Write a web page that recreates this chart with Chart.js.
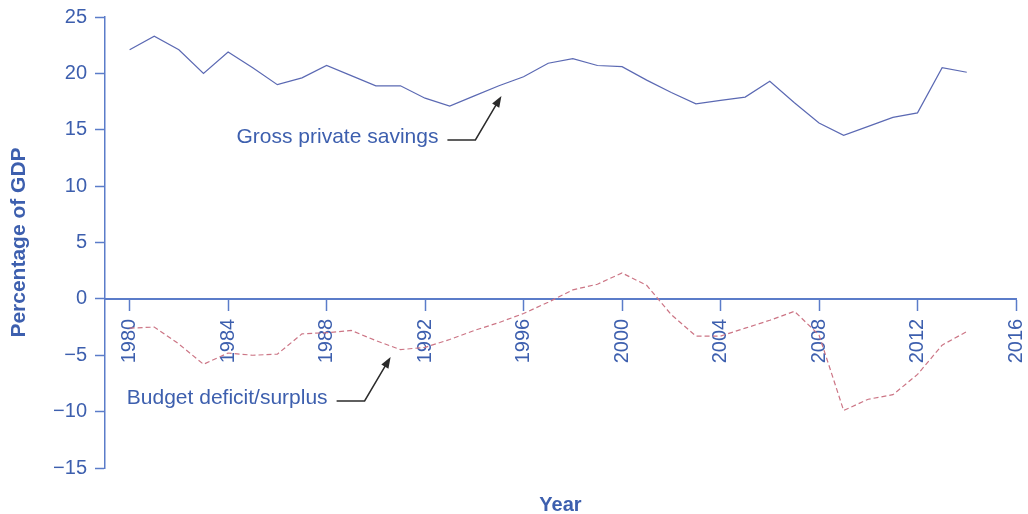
<!DOCTYPE html>
<html>
<head>
<meta charset="utf-8">
<script src="https://cdn.jsdelivr.net/npm/chart.js@4.4.0/dist/chart.umd.min.js"></script>
<style>
  html, body { margin: 0; padding: 0; background: #fff; }
  #box { width: 1028px; height: 514px; }
</style>
</head>
<body>
<div id="box"><canvas id="savingsChart"></canvas></div>
<script>
const years = [1980, 1981, 1982, 1983, 1984, 1985, 1986, 1987, 1988, 1989,
  1990, 1991, 1992, 1993, 1994, 1995, 1996, 1997, 1998, 1999,
  2000, 2001, 2002, 2003, 2004, 2005, 2006, 2007, 2008, 2009,
  2010, 2011, 2012, 2013, 2014];
const grossSavings = [22.1, 23.3, 22.1, 20.0, 21.9, 20.5, 19.0, 19.6, 20.7, 19.8,
  18.9, 18.9, 17.8, 17.1, 18.0, 18.9, 19.7, 20.9, 21.3, 20.7,
  20.6, 19.4, 18.3, 17.3, 17.6, 17.9, 19.3, 17.4, 15.6, 14.5,
  15.3, 16.1, 16.5, 20.5, 20.1];
const budgetBalance = [-2.6, -2.5, -4.0, -5.8, -4.8, -5.0, -4.9, -3.1, -3.0, -2.8,
  -3.7, -4.5, -4.3, -3.6, -2.8, -2.1, -1.3, -0.3, 0.8, 1.3,
  2.3, 1.2, -1.4, -3.3, -3.3, -2.6, -1.9, -1.1, -3.2, -9.9,
  -8.9, -8.5, -6.7, -4.1, -2.9];
const xTicks = [1980, 1984, 1988, 1992, 1996, 2000, 2004, 2008, 2012, 2016];

// callouts: text + where the arrow points (data coords)
const callouts = [
  { text: 'Gross private savings', tipX: 1995.1, tipY: 18.0 },
  { text: 'Budget deficit/surplus', tipX: 1990.6, tipY: -5.15 }
];

const blueText = '#3d5fae';
const axisBlue = '#5b7cc9';
const fontFam = '"Liberation Sans", Arial, sans-serif';

const annotationsPlugin = {
  id: 'callouts',
  afterDatasetsDraw(chart) {
    const { ctx, scales: { x, y }, chartArea } = chart;
    ctx.save();
    ctx.font = '21px ' + fontFam;
    ctx.textBaseline = 'middle';
    ctx.textAlign = 'right';
    callouts.forEach(c => {
      const tx = x.getPixelForValue(c.tipX);
      const ty = y.getPixelForValue(c.tipY);
      // elbow: horizontal stub then diagonal up to tip
      const kneeX = tx - 26;
      const kneeY = ty + 44;
      const stubX = kneeX - 28;
      ctx.fillStyle = blueText;
      ctx.fillText(c.text, stubX - 9, kneeY - 3);
      ctx.strokeStyle = '#2b2b2b';
      ctx.lineWidth = 1.5;
      ctx.beginPath();
      ctx.moveTo(stubX, kneeY);
      ctx.lineTo(kneeX, kneeY);
      const ang = Math.atan2(ty - kneeY, tx - kneeX);
      const headLen = 12;
      ctx.lineTo(tx - Math.cos(ang) * headLen * 0.8, ty - Math.sin(ang) * headLen * 0.8);
      ctx.stroke();
      ctx.fillStyle = '#2b2b2b';
      ctx.beginPath();
      ctx.moveTo(tx, ty);
      ctx.lineTo(tx - headLen * Math.cos(ang - 0.35), ty - headLen * Math.sin(ang - 0.35));
      ctx.lineTo(tx - headLen * Math.cos(ang + 0.35), ty - headLen * Math.sin(ang + 0.35));
      ctx.closePath();
      ctx.fill();
    });
    // x axis title at the bottom
    ctx.font = 'bold 20px ' + fontFam;
    ctx.fillStyle = blueText;
    ctx.textAlign = 'center';
    ctx.fillText('Year', (chartArea.left + chartArea.right) / 2, 505);
    ctx.restore();
  }
};

const ctx = document.getElementById('savingsChart').getContext('2d');
new Chart(ctx, {
  type: 'line',
  data: {
    datasets: [
      {
        label: 'Gross private savings',
        data: years.map((yr, i) => ({ x: yr, y: grossSavings[i] })),
        borderColor: '#5b69b3',
        borderWidth: 1.2,
        pointRadius: 0,
        tension: 0
      },
      {
        label: 'Budget deficit/surplus',
        data: years.map((yr, i) => ({ x: yr, y: budgetBalance[i] })),
        borderColor: '#cc7585',
        borderWidth: 1.2,
        borderDash: [5, 3],
        pointRadius: 0,
        tension: 0
      }
    ]
  },
  options: {
    responsive: true,
    maintainAspectRatio: false,
    animation: false,
    layout: { padding: { top: 17, right: 12, bottom: 46, left: 0 } },
    plugins: {
      legend: { display: false },
      tooltip: { enabled: false }
    },
    scales: {
      x: {
        type: 'linear',
        position: { y: 0 },
        min: 1979,
        max: 2016,
        afterBuildTicks: (scale) => { scale.ticks = xTicks.map(v => ({ value: v })); },
        afterFit: (scale) => {
          scale.paddingLeft = 0; scale.paddingRight = 0;
          scale.paddingTop = 0; scale.paddingBottom = 0;
        },
        grid: { drawOnChartArea: false, tickLength: 11, color: axisBlue, tickWidth: 1.5 },
        border: { color: axisBlue, width: 2 },
        ticks: {
          minRotation: 90,
          maxRotation: 90,
          padding: 9,
          color: blueText,
          font: { family: fontFam, size: 20 },
          callback: (v) => String(v)
        }
      },
      y: {
        min: -15,
        max: 25,
        afterFit: (scale) => {
          scale.width = 105;
          scale.paddingTop = 0; scale.paddingBottom = 0;
        },
        grid: { drawOnChartArea: false, tickLength: 10, color: axisBlue, tickWidth: 1.5 },
        border: { color: axisBlue, width: 1.5 },
        ticks: {
          stepSize: 5,
          padding: 8,
          color: blueText,
          font: { family: fontFam, size: 20 },
          callback: (v) => String(v).replace('-', '\u2212')
        },
        title: {
          display: true,
          text: 'Percentage of GDP',
          color: blueText,
          padding: { top: 7, bottom: 0 },
          font: { family: fontFam, size: 21, weight: 'bold' }
        }
      }
    }
  },
  plugins: [annotationsPlugin]
});
</script>
</body>
</html>
